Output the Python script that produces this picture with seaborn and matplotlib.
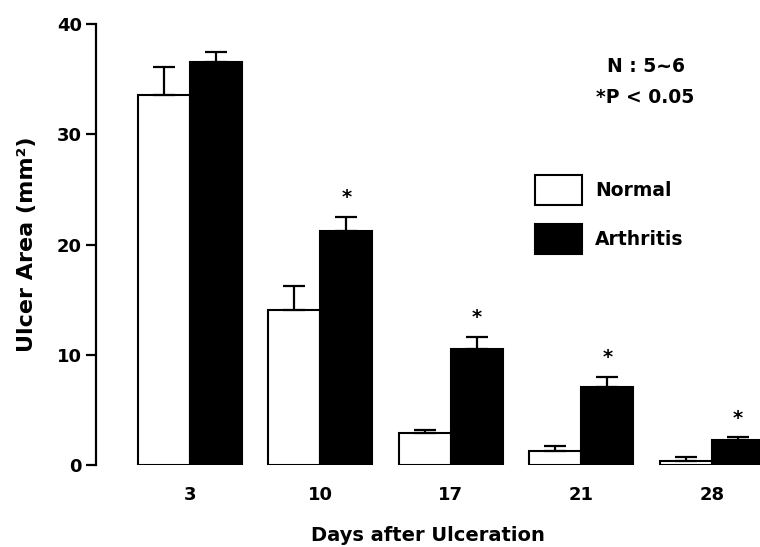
import pandas as pd
import numpy as np
import matplotlib
matplotlib.use("Agg")
import matplotlib.pyplot as plt
import seaborn as sns
from matplotlib.patches import Patch

days = ["3", "10", "17", "21", "28"]
groups = ["Normal", "Arthritis"]
normal_mean = [33.6, 14.1, 2.9, 1.3, 0.4]
normal_err = [2.5, 2.1, 0.3, 0.4, 0.3]
arthritis_mean = [36.6, 21.2, 10.5, 7.1, 2.3]
arthritis_err = [0.9, 1.3, 1.1, 0.9, 0.2]
significant = [False, True, True, True, True]

df = pd.DataFrame({
    "day": days * 2,
    "group": ["Normal"] * 5 + ["Arthritis"] * 5,
    "area": normal_mean + arthritis_mean,
    "err": normal_err + arthritis_err,
})

sns.set_style("ticks")
plt.rcParams["font.family"] = ["DejaVu Sans"]
plt.rcParams["font.weight"] = "bold"
for key in ["text.color", "axes.labelcolor", "xtick.color", "ytick.color", "axes.edgecolor"]:
    plt.rcParams[key] = "black"

fig = plt.figure(figsize=(7.6, 5.47), dpi=100)
ax = fig.add_axes([0.126, 0.15, 0.874, 0.806])

sns.barplot(data=df, x="day", y="area", hue="group", order=days, hue_order=groups,
            palette={"Normal": "white", "Arthritis": "black"}, edgecolor="black",
            linewidth=1.5, errorbar=None, width=0.8, legend=False, ax=ax)

# upper-only error bars, taken from the bar patches
for container, grp in zip(ax.containers, groups):
    errs = df[df.group == grp]["err"].values
    xs = [p.get_x() + p.get_width() / 2 for p in container.patches]
    ys = [p.get_height() for p in container.patches]
    ax.errorbar(xs, ys, yerr=[np.zeros(len(errs)), errs], fmt="none",
                ecolor="black", elinewidth=1.6, capsize=8, capthick=1.6)
    if grp == "Arthritis":
        for x, y, e, s in zip(xs, ys, errs, significant):
            if s:
                ax.annotate("*", (x, y + e), xytext=(0, 7), textcoords="offset points",
                            ha="center", va="bottom", fontsize=14, fontweight="bold")

ax.set_ylim(0, 40)
ax.set_yticks([0, 10, 20, 30, 40])
ax.set_xlim(-0.72, 4.37)
sns.despine(ax=ax, bottom=True)
ax.spines["left"].set_linewidth(1.6)
ax.tick_params(axis="y", length=7, width=1.6, labelsize=13, pad=3)
ax.tick_params(axis="x", length=0, labelsize=13, pad=15)
for lab in ax.get_xticklabels() + ax.get_yticklabels():
    lab.set_fontweight("bold")

ax.set_xlabel("Days after Ulceration", fontsize=14, fontweight="bold", labelpad=16)
ax.set_ylabel("Ulcer Area (mm²)", fontsize=16, fontweight="bold")
ax.yaxis.set_label_coords(-0.088, 0.5)

fig.text(646 / 760, 1 - 66 / 547, "N : 5~6", ha="center", va="center",
         fontsize=13.5, fontweight="bold")
fig.text(645 / 760, 1 - 97 / 547, "*P < 0.05", ha="center", va="center",
         fontsize=13.5, fontweight="bold")

handles = [Patch(facecolor="white", edgecolor="black", linewidth=1.5),
           Patch(facecolor="black", edgecolor="black", linewidth=1.5)]
fig.legend(handles, groups, loc="upper left", bbox_to_anchor=(535 / 760, 1 - 175 / 547),
           frameon=False, borderpad=0, borderaxespad=0, handlelength=2.5,
           handleheight=2.1, labelspacing=1.0, handletextpad=0.7,
           prop={"size": 13.5, "weight": "bold"})

fig.savefig("out.png", dpi=100)
